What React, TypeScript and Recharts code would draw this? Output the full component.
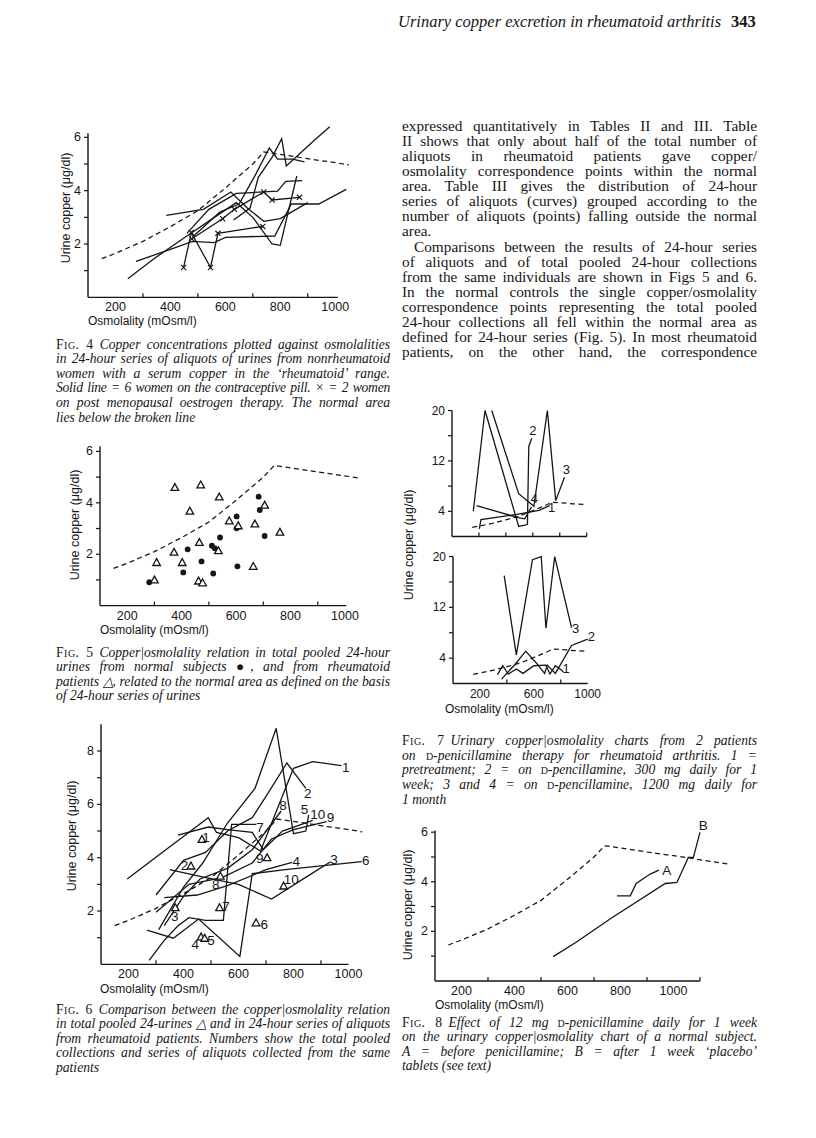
import React from 'react';
import { ComposedChart, Line, Scatter, XAxis, YAxis, ReferenceLine } from 'recharts';

type Pt = [number, number];
type Lab = [number, number, string];

const SERIF = '"Liberation Serif", "Times New Roman", serif';
const SANS = '"Liberation Sans", "DejaVu Sans", Arial, sans-serif';
const INK = '#151515';

// ---------- shared ticks ----------
const osmTicks = [200, 300, 400, 500, 600, 700, 800, 900, 1000];
const osmTicksFig8 = [200, 300, 400, 500, 600, 700, 800, 900, 1000, 1100];
const osmLabels = [200, 400, 600, 800, 1000];
const fig7OsmTicks = [200, 400, 600, 800, 1000];
const fig7OsmLabels = [200, 600, 1000];
const copperTicks6 = [1, 2, 3, 4, 5, 6];
const copperLabels6 = [2, 4, 6];
const copperTicks9 = [1, 2, 3, 4, 5, 6, 7, 8];
const copperLabels9 = [2, 4, 6, 8];
const copperTicks20 = [4, 8, 12, 16, 20];
const copperLabels20 = [4, 12, 20];

// ---------- normal area boundary (broken line) ----------
const normalAreaBoundary: Pt[] = [
  [150, 1.45], [200, 1.65], [300, 2.1], [400, 2.65], [500, 3.25], [600, 4.1],
  [700, 5.0], [740, 5.45], [800, 5.36], [900, 5.2], [1000, 5.05], [1050, 4.97], [1210, 4.71],
];

// ---------- Fig 4 ----------
const fig4Pill1: Pt[] = [[245, 0.7], [340, 1.45], [460, 2.3], [560, 3.0], [640, 3.55], [700, 3.0], [770, 2.0], [800, 1.95], [860, 4.55]];
const fig4Pill2: Pt[] = [[275, 1.35], [400, 1.8], [480, 2.1], [560, 2.05], [600, 2.25], [780, 2.3], [840, 3.5], [940, 3.5], [1040, 4.05]];
const fig4Pill3: Pt[] = [[385, 3.07], [520, 3.3], [620, 3.95], [680, 3.35], [740, 2.85], [800, 2.95], [900, 3.55]];
const fig4Pill4: Pt[] = [[460, 2.4], [540, 3.3], [640, 3.9], [790, 3.98], [820, 4.35], [880, 4.38]];
const fig4Pill5: Pt[] = [[480, 2.25], [580, 3.2], [650, 3.5], [710, 4.6], [760, 5.6], [790, 5.18], [845, 5.18], [888, 5.08]];
const fig4Pill6: Pt[] = [[630, 2.9], [690, 3.35], [720, 4.5], [770, 5.25], [805, 5.95], [822, 4.93], [920, 5.85], [980, 6.4]];
const fig4Oestrogen1: Pt[] = [[448, 1.12], [476, 2.43], [546, 1.12], [573, 2.4], [736, 2.66]];
const fig4Oestrogen2: Pt[] = [[478, 2.2], [590, 2.95], [633, 3.3], [740, 3.95], [770, 3.65], [870, 3.75]];

// ---------- Fig 5 ----------
const fig5Normal: Pt[] = [
  [683, 4.24], [687, 3.72], [602, 3.47], [602, 3.01], [705, 2.71], [541, 2.65], [422, 2.19],
  [511, 2.33], [522, 2.23], [473, 1.72], [605, 1.53], [406, 1.29], [516, 1.25], [281, 0.91],
];
const fig5Rheumatoid: Pt[] = [
  [375, 4.6], [470, 4.7], [538, 4.23], [430, 3.68], [705, 3.91], [575, 3.3], [608, 3.11],
  [669, 3.18], [761, 2.86], [465, 2.46], [372, 2.08], [535, 2.14], [308, 1.68], [402, 1.68],
  [663, 1.53], [300, 1.0], [462, 0.96], [477, 0.89],
];

// ---------- Fig 6 ----------
const fig6Series1: Pt[] = [[195, 3.2], [490, 5.5], [520, 4.95], [600, 4.75], [680, 4.25], [800, 7.35], [870, 7.6], [975, 7.45]];
const fig6Series2: Pt[] = [[300, 2.6], [400, 3.9], [480, 4.2], [560, 5.0], [650, 5.5], [700, 6.3], [776, 7.55], [845, 6.6]];
const fig6Series3: Pt[] = [[350, 3.55], [460, 3.3], [600, 3.0], [720, 2.45], [850, 3.3], [935, 3.85]];
const fig6Series4: Pt[] = [[330, 2.5], [450, 2.6], [560, 2.95], [700, 3.55], [795, 3.82]];
const fig6Series5: Pt[] = [[310, 1.3], [400, 2.9], [470, 3.8], [560, 5.3], [660, 6.6], [737, 8.85], [800, 4.9], [845, 5.0], [855, 5.6]];
const fig6Series6: Pt[] = [[267, 1.28], [363, 0.98], [455, 1.7], [605, 0.3], [650, 3.4], [770, 3.55], [1048, 3.85]];
const fig6Series7: Pt[] = [[275, 0.15], [330, 0.9], [380, 1.45], [420, 1.75], [480, 1.65], [545, 1.65], [575, 5.25], [665, 5.25]];
const fig6Series8: Pt[] = [[330, 1.45], [400, 2.55], [460, 3.2], [560, 3.6], [650, 4.3], [755, 5.75]];
const fig6Series9: Pt[] = [[300, 1.95], [420, 3.0], [540, 3.25], [650, 3.8], [720, 4.7], [800, 5.05], [920, 5.35]];
const fig6Series10: Pt[] = [[380, 4.85], [490, 5.15], [560, 5.05], [650, 4.95], [690, 4.3], [760, 5.0], [870, 5.4]];
const fig6SeriesLabels: Lab[] = [
  [990, 7.4, '1'], [852, 6.4, '2'], [947, 3.95, '3'], [810, 3.85, '4'], [840, 5.8, '5'],
  [1063, 3.9, '6'], [678, 5.15, '7'], [762, 5.95, '8'], [935, 5.5, '9'], [888, 5.63, '10'],
];
const fig6Pooled: Pt[] = [
  [467, 4.69], [427, 3.69], [370, 2.13], [464, 1.03], [477, 0.98],
  [664, 1.56], [531, 2.13], [534, 3.31], [704, 4.0], [764, 2.94],
];
const fig6PooledLabels: Lab[] = [
  [482, 4.75, '1'], [404, 3.69, '2'], [368, 1.78, '3'], [443, 0.75, '4'], [500, 0.88, '5'],
  [694, 1.5, '6'], [555, 2.18, '7'], [517, 2.98, '8'], [677, 3.98, '9'], [792, 3.19, '10'],
];

// ---------- Fig 7 ----------
const fig7TopSeries1: Pt[] = [[203, 1.2], [215, 2.7], [483, 3.5], [645, 4.15], [725, 4.9]];
const fig7TopSeries2: Pt[] = [[158, 4.0], [245, 20], [495, 1.6], [560, 1.9], [570, 14.3], [592, 15.6]];
const fig7TopSeries3: Pt[] = [[295, 20], [495, 6.8], [608, 4.8], [708, 20], [770, 5.7], [835, 9.4]];
const fig7TopSeries4: Pt[] = [[183, 4.9], [490, 3.0], [540, 2.8], [590, 4.7]];
const fig7TopLabels: Lab[] = [[740, 4.6, '1'], [600, 16.8, '2'], [850, 10.6, '3'], [612, 6.0, '4']];
const fig7BottomSeries1: Pt[] = [[330, 1.4], [370, 2.8], [410, 1.5], [470, 2.3], [520, 1.6], [600, 2.8], [690, 2.9], [720, 1.5], [760, 2.8], [800, 2.2], [820, 1.8]];
const fig7BottomSeries2: Pt[] = [[360, 0.7], [460, 3.0], [540, 5.1], [620, 3.2], [680, 1.6], [700, 2.9], [760, 1.6], [880, 6.0], [1000, 7.0]];
const fig7BottomSeries3: Pt[] = [[380, 17.0], [470, 4.5], [590, 19.5], [655, 20], [690, 8.7], [755, 20], [880, 8.8]];
const fig7BottomLabels: Lab[] = [[840, 2.4, '1'], [1028, 7.4, '2'], [910, 8.6, '3']];

// ---------- Fig 8 ----------
const fig8Before: Pt[] = [[787, 3.43], [837, 3.43], [859, 3.93], [912, 4.31], [945, 4.47]];
const fig8After: Pt[] = [[546, 0.98], [631, 1.55], [769, 2.56], [969, 3.93], [1013, 3.97], [1056, 4.98], [1075, 4.98], [1100, 5.99]];
const fig8Labels: Lab[] = [[975, 4.45, 'A'], [1112, 6.28, 'B']];

// ---------- helpers ----------
const toXY = (pts: Pt[]) => pts.map(([x, y]) => ({ x, y }));
const toLab = (l: Lab[]) => l.map(([x, y, t]) => ({ x, y, t }));
const boundaryUpTo = (max: number) => normalAreaBoundary.filter(([x]) => x <= max);

type Spec = {
  x0: number; y0: number; kx: number; ky: number;
  xDomain: [number, number]; yDomain: [number, number];
  xEnd: number; yEnd: number;
  xTicks: number[]; xLabels: number[];
  yTicks: number[]; yLabels: number[];
  fs: number;
};

const XTick = (p: any) => {
  const v = p.payload?.value;
  if (p.labels.includes(v)) {
    return (
      <text x={p.x} y={p.y + 10} textAnchor="middle" dominantBaseline="central" fontFamily={SANS} fontSize={p.fs} fill={INK}>
        {v}
      </text>
    );
  }
  return <line x1={p.x} x2={p.x} y1={p.y} y2={p.y - 4} stroke={INK} strokeWidth={1.2} />;
};

const YTick = (p: any) => {
  const v = p.payload?.value;
  return (
    <g>
      <line x1={p.x} x2={p.x - 4} y1={p.y} y2={p.y} stroke={INK} strokeWidth={1.2} />
      {p.labels.includes(v) && (
        <text x={p.x - 7} y={p.y} textAnchor="end" dominantBaseline="central" fontFamily={SANS} fontSize={p.fs} fill={INK}>
          {v}
        </text>
      )}
    </g>
  );
};

const triangleShape = (p: any) => {
  const s = 3.8;
  return (
    <path
      d={`M${p.cx},${p.cy - s} L${p.cx + s},${p.cy + s * 0.8} L${p.cx - s},${p.cy + s * 0.8} Z`}
      fill="#fff"
      stroke={INK}
      strokeWidth={1.3}
    />
  );
};
const dotShape = (p: any) => <circle cx={p.cx} cy={p.cy} r={2.9} fill={INK} />;
const labelShape = (fs: number) => (p: any) => (
  <text x={p.cx} y={p.cy} textAnchor="middle" dominantBaseline="central" fontFamily={SANS} fontSize={fs} fill={INK}>
    {p.payload?.t}
  </text>
);
const crossDot = (p: any) => (
  <g key={`x-${p.index}-${Math.round(p.cx)}`}>
    <line x1={p.cx - 2.6} x2={p.cx + 2.6} y1={p.cy - 2.6} y2={p.cy + 2.6} stroke={INK} strokeWidth={1.1} />
    <line x1={p.cx - 2.6} x2={p.cx + 2.6} y1={p.cy + 2.6} y2={p.cy - 2.6} stroke={INK} strokeWidth={1.1} />
  </g>
);

const solid = (pts: Pt[], key: string, dot: any = false) => (
  <Line
    key={key}
    data={toXY(pts)}
    dataKey="y"
    type="linear"
    stroke={INK}
    strokeWidth={1.3}
    dot={dot}
    activeDot={false}
    isAnimationActive={false}
    legendType="none"
  />
);
const dashed = (pts: Pt[], key: string) => (
  <Line
    key={key}
    data={toXY(pts)}
    dataKey="y"
    type="linear"
    stroke={INK}
    strokeWidth={1.25}
    strokeDasharray="5 3.5"
    dot={false}
    activeDot={false}
    isAnimationActive={false}
    legendType="none"
  />
);
const labels = (l: Lab[], key: string, fs: number) => (
  <Scatter key={key} data={toLab(l)} dataKey="y" shape={labelShape(fs)} isAnimationActive={false} legendType="none" />
);

function Figure({ spec, children }: { spec: Spec; children: React.ReactNode }) {
  const padL = 40, padT = 14, padR = 16, padB = 28;
  const pw = (spec.xDomain[1] - spec.xDomain[0]) * spec.kx;
  const ph = (spec.yDomain[1] - spec.yDomain[0]) * spec.ky;
  const W = pw + padL + padR;
  const H = ph + padT + padB;
  return (
    <div style={{ position: 'absolute', left: spec.x0 - padL, top: spec.y0 - ph - padT, width: W, height: H }}>
      <ComposedChart width={W} height={H} margin={{ top: padT, right: padR, bottom: 0, left: 0 }}>
        <XAxis
          type="number"
          dataKey="x"
          domain={spec.xDomain}
          ticks={spec.xTicks}
          interval={0}
          allowDataOverflow
          axisLine={false}
          tickLine={false}
          tickSize={0}
          tickMargin={0}
          height={padB}
          tick={<XTick labels={spec.xLabels} fs={spec.fs} />}
        />
        <YAxis
          type="number"
          dataKey="y"
          domain={spec.yDomain}
          ticks={spec.yTicks}
          interval={0}
          allowDataOverflow
          axisLine={false}
          tickLine={false}
          tickSize={0}
          tickMargin={0}
          width={padL}
          tick={<YTick labels={spec.yLabels} fs={spec.fs} />}
        />
        <ReferenceLine
          segment={[{ x: spec.xDomain[0], y: spec.yDomain[0] }, { x: spec.xEnd, y: spec.yDomain[0] }]}
          stroke={INK}
          strokeWidth={1.4}
          ifOverflow="visible"
        />
        <ReferenceLine
          segment={[{ x: spec.xDomain[0], y: spec.yDomain[0] }, { x: spec.xDomain[0], y: spec.yEnd }]}
          stroke={INK}
          strokeWidth={1.4}
          ifOverflow="visible"
        />
        {children}
      </ComposedChart>
    </div>
  );
}

const fig4Spec: Spec = {
  x0: 88, y0: 297, kx: 0.2747, ky: 26.67, xDomain: [100, 1060], yDomain: [0, 6.5], xEnd: 1010, yEnd: 6.15,
  xTicks: osmTicks, xLabels: osmLabels, yTicks: copperTicks6, yLabels: copperLabels6, fs: 12.5,
};
const fig5Spec: Spec = {
  x0: 100, y0: 606, kx: 0.2722, ky: 25.7, xDomain: [100, 1050], yDomain: [0, 6.25], xEnd: 1005, yEnd: 6.2,
  xTicks: osmTicks, xLabels: osmLabels, yTicks: copperTicks6, yLabels: copperLabels6, fs: 12.5,
};
const fig6Spec: Spec = {
  x0: 100.7, y0: 964, kx: 0.275, ky: 26.67, xDomain: [100, 1075], yDomain: [0, 9.05], xEnd: 1000, yEnd: 9,
  xTicks: osmTicks, xLabels: osmLabels, yTicks: copperTicks9, yLabels: copperLabels9, fs: 12.5,
};
const fig7TopSpec: Spec = {
  x0: 452, y0: 536.5, kx: 0.1347, ky: 6.3, xDomain: [0, 1060], yDomain: [0, 20.4], xEnd: 1000, yEnd: 20,
  xTicks: fig7OsmTicks, xLabels: [], yTicks: copperTicks20, yLabels: copperLabels20, fs: 12,
};
const fig7BottomSpec: Spec = {
  x0: 452.5, y0: 683.7, kx: 0.1347, ky: 6.35, xDomain: [0, 1060], yDomain: [0, 20.4], xEnd: 1000, yEnd: 20,
  xTicks: fig7OsmTicks, xLabels: fig7OsmLabels, yTicks: copperTicks20, yLabels: copperLabels20, fs: 12,
};
const fig8Spec: Spec = {
  x0: 435, y0: 980.7, kx: 0.265, ky: 24.8, xDomain: [100, 1215], yDomain: [0, 6.45], xEnd: 1100, yEnd: 6.07,
  xTicks: osmTicksFig8, xLabels: osmLabels, yTicks: copperTicks6, yLabels: copperLabels6, fs: 12.5,
};

// ---------- text helpers ----------
const YTitle = ({ cx, cy, fs = 12.5 }: { cx: number; cy: number; fs?: number }) => (
  <div
    style={{
      position: 'absolute', left: cx, top: cy, transform: 'translate(-50%, -50%) rotate(-90deg)',
      fontFamily: SANS, fontSize: fs, whiteSpace: 'nowrap', color: INK, lineHeight: '13px',
    }}
  >
    Urine copper (μg/dl)
  </div>
);
const XTitle = ({ left, cy, fs = 12 }: { left: number; cy: number; fs?: number }) => (
  <div style={{ position: 'absolute', left, top: cy - 6.5, fontFamily: SANS, fontSize: fs, whiteSpace: 'nowrap', color: INK, lineHeight: '13px' }}>
    Osmolality (mOsm/l)
  </div>
);

const J = ({ children, last = false, indent = 0, tight = 0 }: { children: React.ReactNode; last?: boolean; indent?: number; tight?: number }) => (
  <div
    style={{
      textAlign: last ? 'left' : 'justify', textAlignLast: last ? 'left' : 'justify', paddingLeft: indent,
      whiteSpace: 'normal', letterSpacing: tight ? -tight : undefined,
    }}
  >
    {children}
  </div>
);

const Block = ({ left, top, width, fs, lh, italic, children }: any) => (
  <div
    style={{
      position: 'absolute', left, top, width, fontFamily: SERIF, fontSize: fs, lineHeight: `${lh}px`,
      fontStyle: italic ? 'italic' : 'normal', color: INK,
    }}
  >
    {children}
  </div>
);

const FigTag = ({ n }: { n: number }) => (
  <span style={{ fontStyle: 'normal', fontVariant: 'small-caps', letterSpacing: 0.5, marginRight: 6 }}>Fig. {n}</span>
);
const D = () => <span style={{ fontStyle: 'normal', fontVariant: 'small-caps' }}>d</span>;

const CAP_FS = 13.6;
const CAP_LH = 14.6;
const LEFT_COL = 56;
const LEFT_W = 334;
const RIGHT_COL = 402;
const RIGHT_W = 355;

export default function App() {
  return (
    <div style={{ position: 'absolute', left: 0, top: 0, width: 816, height: 1138, background: '#fff', overflow: 'hidden' }}>
      {/* running head */}
      <div style={{ position: 'absolute', left: 398, top: 12, fontFamily: SERIF, fontSize: 16.5, fontStyle: 'italic', color: INK, whiteSpace: 'nowrap' }}>
        Urinary copper excretion in rheumatoid arthritis
        <span style={{ fontStyle: 'normal', fontWeight: 'bold', marginLeft: 10 }}>343</span>
      </div>

      {/* right column text */}
      <Block left={RIGHT_COL} top={117.8} width={RIGHT_W} fs={15.3} lh={15.1}>
        <J>expressed quantitatively in Tables II and III. Table</J>
        <J>II shows that only about half of the total number of</J>
        <J>aliquots in rheumatoid patients gave copper/</J>
        <J>osmolality correspondence points within the normal</J>
        <J>area. Table III gives the distribution of 24-hour</J>
        <J>series of aliquots (curves) grouped according to the</J>
        <J>number of aliquots (points) falling outside the normal</J>
        <J last>area.</J>
        <J indent={12}>Comparisons between the results of 24-hour series</J>
        <J>of aliquots and of total pooled 24-hour collections</J>
        <J>from the same individuals are shown in Figs 5 and 6.</J>
        <J>In the normal controls the single copper/osmolality</J>
        <J>correspondence points representing the total pooled</J>
        <J>24-hour collections all fell within the normal area as</J>
        <J>defined for 24-hour series (Fig. 5). In most rheumatoid</J>
        <J>patients, on the other hand, the correspondence</J>
      </Block>

      {/* ---------- Fig 4 ---------- */}
      <Figure spec={fig4Spec}>
        {[
          dashed(boundaryUpTo(1050), 'b4'),
          solid(fig4Pill1, 'p1'),
          solid(fig4Pill2, 'p2'),
          solid(fig4Pill3, 'p3'),
          solid(fig4Pill4, 'p4'),
          solid(fig4Pill5, 'p5'),
          solid(fig4Pill6, 'p6'),
          solid(fig4Oestrogen1, 'o1', crossDot),
          solid(fig4Oestrogen2, 'o2', crossDot),
        ]}
      </Figure>
      <YTitle cx={66} cy={208} />
      <XTitle left={88} cy={297 + 24} />
      <Block left={LEFT_COL} top={345 - CAP_LH / 2} width={LEFT_W} fs={CAP_FS} lh={CAP_LH} italic>
        <J><FigTag n={4} />Copper concentrations plotted against osmolalities</J>
        <J>in 24-hour series of aliquots of urines from nonrheumatoid</J>
        <J>women with a serum copper in the ‘rheumatoid’ range.</J>
        <J tight={0.25}>Solid line = 6 women on the contraceptive pill. × = 2 women</J>
        <J>on post menopausal oestrogen therapy. The normal area</J>
        <J last>lies below the broken line</J>
      </Block>

      {/* ---------- Fig 5 ---------- */}
      <Figure spec={fig5Spec}>
        {[
          dashed(boundaryUpTo(1050), 'b5'),
          <Scatter key="n5" data={toXY(fig5Normal)} dataKey="y" shape={dotShape} isAnimationActive={false} legendType="none" />,
          <Scatter key="r5" data={toXY(fig5Rheumatoid)} dataKey="y" shape={triangleShape} isAnimationActive={false} legendType="none" />,
        ]}
      </Figure>
      <YTitle cx={75} cy={525} />
      <XTitle left={100} cy={606 + 24} />
      <Block left={LEFT_COL} top={653 - CAP_LH / 2} width={LEFT_W} fs={CAP_FS} lh={CAP_LH} italic>
        <J><FigTag n={5} />Copper|osmolality relation in total pooled 24-hour</J>
        <J>urines from normal subjects ●, and from rheumatoid</J>
        <J>patients △, related to the normal area as defined on the basis</J>
        <J last>of 24-hour series of urines</J>
      </Block>

      {/* ---------- Fig 6 ---------- */}
      <Figure spec={fig6Spec}>
        {[
          dashed(boundaryUpTo(1050), 'b6'),
          solid(fig6Series1, 's1'),
          solid(fig6Series2, 's2'),
          solid(fig6Series3, 's3'),
          solid(fig6Series4, 's4'),
          solid(fig6Series5, 's5'),
          solid(fig6Series6, 's6'),
          solid(fig6Series7, 's7'),
          solid(fig6Series8, 's8'),
          solid(fig6Series9, 's9'),
          solid(fig6Series10, 's10'),
          <Scatter key="pooled6" data={toXY(fig6Pooled)} dataKey="y" shape={triangleShape} isAnimationActive={false} legendType="none" />,
          labels(fig6SeriesLabels, 'l6a', 13.5),
          labels(fig6PooledLabels, 'l6b', 13.5),
        ]}
      </Figure>
      <YTitle cx={72} cy={836} />
      <XTitle left={100} cy={964 + 25} />
      <Block left={LEFT_COL} top={1010 - CAP_LH / 2} width={LEFT_W} fs={CAP_FS} lh={CAP_LH} italic>
        <J><FigTag n={6} />Comparison between the copper|osmolality relation</J>
        <J>in total pooled 24-urines △ and in 24-hour series of aliquots</J>
        <J>from rheumatoid patients. Numbers show the total pooled</J>
        <J>collections and series of aliquots collected from the same</J>
        <J last>patients</J>
      </Block>

      {/* ---------- Fig 7 ---------- */}
      <Figure spec={fig7TopSpec}>
        {[
          dashed(boundaryUpTo(1000), 'b7t'),
          solid(fig7TopSeries1, 't1'),
          solid(fig7TopSeries2, 't2'),
          solid(fig7TopSeries3, 't3'),
          solid(fig7TopSeries4, 't4'),
          labels(fig7TopLabels, 'l7t', 13),
        ]}
      </Figure>
      <Figure spec={fig7BottomSpec}>
        {[
          dashed(boundaryUpTo(1000), 'b7b'),
          solid(fig7BottomSeries1, 'u1'),
          solid(fig7BottomSeries2, 'u2'),
          solid(fig7BottomSeries3, 'u3'),
          labels(fig7BottomLabels, 'l7b', 13),
        ]}
      </Figure>
      <YTitle cx={409} cy={545} />
      <XTitle left={445} cy={683.7 + 26} />
      <Block left={RIGHT_COL} top={741.5 - CAP_LH / 2} width={RIGHT_W} fs={CAP_FS} lh={CAP_LH} italic>
        <J><FigTag n={7} />Urinary copper|osmolality charts from 2 patients</J>
        <J>on <D />-penicillamine therapy for rheumatoid arthritis. 1 =</J>
        <J>pretreatment; 2 = on <D />-pencillamine, 300 mg daily for 1</J>
        <J>week; 3 and 4 = on <D />-pencillamine, 1200 mg daily for</J>
        <J last>1 month</J>
      </Block>

      {/* ---------- Fig 8 ---------- */}
      <Figure spec={fig8Spec}>
        {[
          dashed(normalAreaBoundary, 'b8'),
          solid(fig8Before, 'a8'),
          solid(fig8After, 'c8'),
          labels(fig8Labels, 'l8', 13.5),
        ]}
      </Figure>
      <YTitle cx={408} cy={905} />
      <XTitle left={435} cy={980.7 + 25} />
      <Block left={RIGHT_COL} top={1023 - CAP_LH / 2} width={RIGHT_W} fs={CAP_FS} lh={CAP_LH} italic>
        <J><FigTag n={8} />Effect of 12 mg <D />-penicillamine daily for 1 week</J>
        <J>on the urinary copper|osmolality chart of a normal subject.</J>
        <J>A = before penicillamine; B = after 1 week ‘placebo’</J>
        <J last>tablets (see text)</J>
      </Block>
    </div>
  );
}
